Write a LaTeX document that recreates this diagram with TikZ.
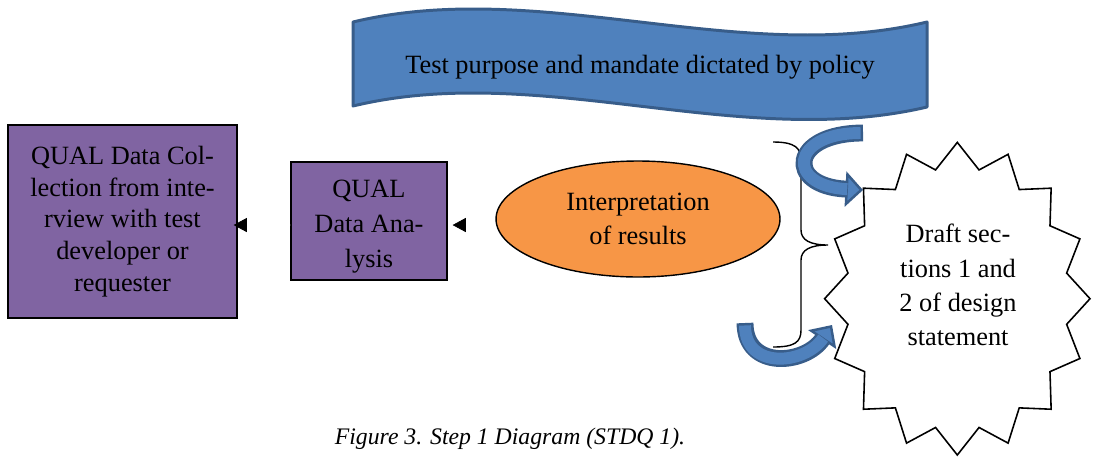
\documentclass[tikz,border=0pt]{standalone}
\usepackage{fontspec}
\setmainfont{Liberation Serif}
\usetikzlibrary{arrows.meta, shapes.geometric}

\definecolor{boxpurple}{HTML}{8064A2}
\definecolor{ovalorange}{HTML}{F79646}
\definecolor{bannerblue}{HTML}{4F81BD}
\definecolor{banneredge}{HTML}{385D8A}

\begin{document}
\begin{tikzpicture}[x=0.02cm, y=-0.02cm,
    font=\fontsize{15}{19.5}\selectfont,
    stepbox/.style={draw=black, fill=boxpurple, line width=0.8pt, align=center, inner sep=0pt},
    oval/.style={ellipse, draw=black, fill=ovalorange, line width=0.8pt, align=center},
    gaptip/.style={draw=white, -{Triangle[length=7.5pt, width=8pt, color=black]}},
    ribbonedge/.style={draw=banneredge, line width=9.6pt},
    ribbonfill/.style={draw=bannerblue, line width=6.8pt}]

    \useasboundingbox (0,0) rectangle (1094,457);

    % ===== Policy banner =====
    \draw[draw=banneredge, fill=bannerblue, line width=1.7pt, line join=round]
        (353,22) .. controls (540,-23) and (740,67) .. (927,22) -- (927,107)
        .. controls (740,151) and (540,61) .. (353,106) -- cycle;
    \node (policy) at (640,67) {Test purpose and mandate dictated by policy};

    % ===== Steps =====
    \node[stepbox, minimum width=4.58cm, minimum height=3.86cm, font=\fontsize{15}{18}\selectfont]
        (coll) at (122.5,221.5) {QUAL Data Col-\\lection from inte-\\rview with test\\developer or\\requester};
    \node[stepbox, minimum width=3.12cm, minimum height=2.36cm, font=\fontsize{15}{20}\selectfont]
        (ana) at (369,221) {\rule{0pt}{16.5pt}QUAL\\Data Ana-\\lysis};
    \node[oval, minimum width=5.68cm, minimum height=2.32cm]
        (interp) at (638,219) {Interpretation\\of results};

    % arrow heads between the steps
    \draw[gaptip, shorten >=-2.3pt] ([yshift=-2.3pt]ana.west) -- ([yshift=-2pt]coll.east);
    \draw[gaptip, shorten >=2.8pt] ([yshift=-3.4pt]interp.west) -- ([yshift=-2.3pt]ana.east);

    % ===== Brace =====
    \draw[line width=0.8pt] (773,142) .. controls (795,142) and (801,148) .. (801,160) -- (801,230)
        .. controls (801,240) and (810,245) .. (828,245)
        .. controls (810,245) and (801,250) .. (801,260) -- (801,330)
        .. controls (801,342) and (795,347) .. (773,347);

    % ===== Design statement star =====
    \draw[line width=0.9pt, fill=white, line join=miter]
        plot[samples at={0,...,31}]
        ({957.3+132.7*(1-0.16*mod(\x,2))*cos(90+11.25*\x)},
         {298.7-156.3*(1-0.16*mod(\x,2))*sin(90+11.25*\x)}) -- cycle;
    \node[align=center] (draft) at (958,285) {Draft sec-\\tions 1 and\\2 of design\\statement};

    % ===== Curved arrows into the star =====
    \coordinate (upstart) at (863,133);
    \coordinate (uptip) at (863,190);
    \coordinate (lowstart) at (745,323);
    \coordinate (lowtip) at (832,325);

    \draw[ribbonedge, -{Triangle[length=10pt, width=20pt, fill=bannerblue, line width=1.4pt]}]
        (upstart) .. controls (790,133) and (785,186) .. (uptip);
    \draw[ribbonfill, shorten >=9pt, shorten <=1.4pt]
        (upstart) .. controls (790,133) and (785,186) .. (uptip);

    \draw[ribbonedge, -{Triangle[length=10pt, width=19pt, fill=bannerblue, line width=1.4pt]}]
        (lowstart) .. controls (745,370) and (805,365) .. (lowtip);
    \draw[ribbonfill, shorten >=9pt, shorten <=1.4pt]
        (lowstart) .. controls (745,370) and (805,365) .. (lowtip);

    % ===== Caption =====
    \node[font=\fontsize{13.5}{16}\selectfont\itshape] (caption) at (510,439)
        {Figure 3. Step 1 Diagram (STDQ 1).};

\end{tikzpicture}
\end{document}
